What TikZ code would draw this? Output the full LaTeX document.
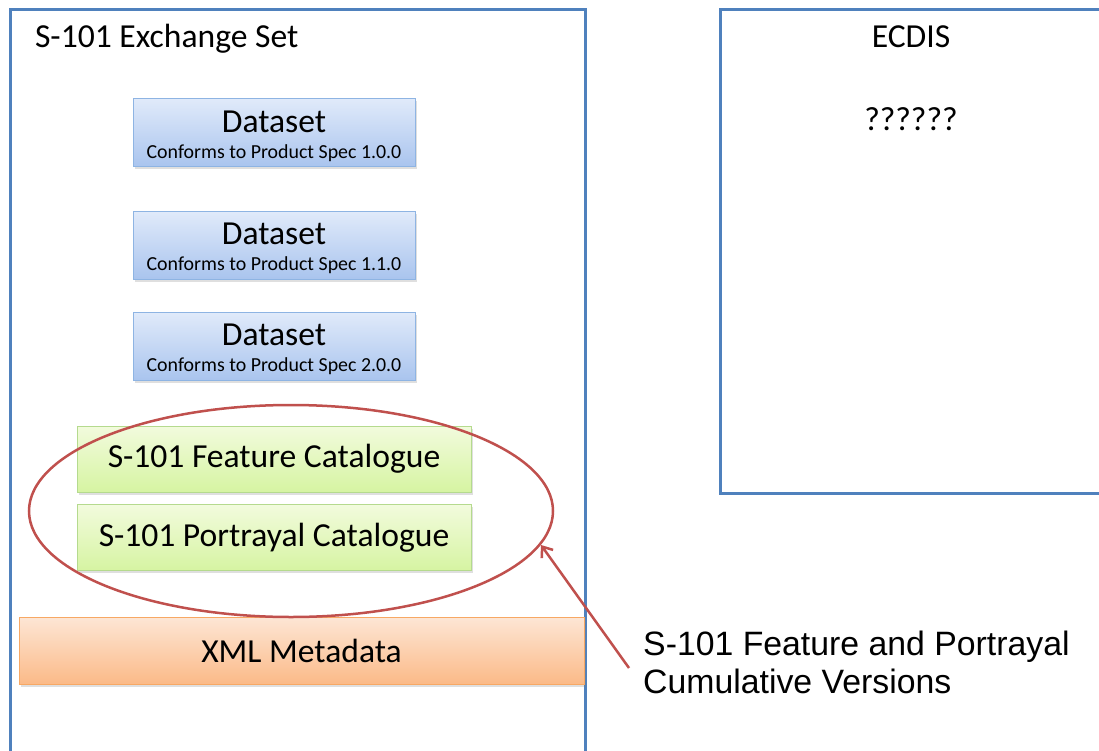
\documentclass[tikz,border=0pt]{standalone}
\usepackage{fontspec}
\setmainfont{Carlito}
\newfontfamily\arialf{Liberation Sans}
\usetikzlibrary{shapes.geometric,shadows,arrows.meta}
\definecolor{offblue}{HTML}{4F81BD}
\definecolor{dsborder}{HTML}{8EB4E3}
\definecolor{dstop}{HTML}{E0EAFA}
\definecolor{dsbot}{HTML}{A9C4EE}
\definecolor{grborder}{HTML}{B5DA8E}
\definecolor{grtop}{HTML}{F2FBDD}
\definecolor{grbot}{HTML}{D6F4A2}
\definecolor{orborder}{HTML}{F7A864}
\definecolor{ortop}{HTML}{FDE6D5}
\definecolor{orbot}{HTML}{FBBA88}
\definecolor{ovalred}{HTML}{C0504D}
\tikzset{
  container/.style={draw=offblue,line width=3pt},
  boxbase/.style={rectangle,line width=1pt,inner sep=0pt,
    drop shadow={shadow xshift=1.5pt,shadow yshift=-2.5pt,opacity=0.25}},
  dsbox/.style={boxbase,draw=dsborder,top color=dstop,bottom color=dsbot,
    minimum width=282pt,minimum height=68pt,align=center,
    font=\fontsize{19.9}{26}\selectfont},
  grbox/.style={boxbase,draw=grborder,top color=grtop,bottom color=grbot,
    minimum width=394pt,minimum height=66pt,font=\fontsize{33.6}{36}\selectfont},
  orbox/.style={boxbase,draw=orborder,top color=ortop,bottom color=orbot,
    minimum width=565pt,minimum height=67pt,font=\fontsize{33.6}{36}\selectfont},
  plaintxt/.style={inner sep=0pt,font=\fontsize{33.6}{36}\selectfont},
  oval/.style={ellipse,draw=ovalred,line width=2.5pt,minimum width=524pt,minimum height=212pt},
  pointer/.style={draw=ovalred,line width=2.5pt,-{Straight Barb[length=9pt,width=14pt]}}
}
\newcommand{\dsbig}[1]{{\fontsize{33.6}{26}\selectfont\rule{0pt}{28pt}#1}}
\begin{document}
\begin{tikzpicture}[x=1pt,y=-1pt]
\clip (0,0) rectangle (1099,751);
\fill[white] (0,0) rectangle (1099,751);
% containers
\draw[container] (10,10) rectangle (585,770);
\draw[container] (720,10) rectangle (1110,493);
\node[plaintxt,anchor=base west] (extitle) at (35,47.5) {S-101 Exchange Set};
\node[plaintxt,anchor=base] (ecdis) at (911,48) {ECDIS};
\node[plaintxt,anchor=base] (qq) at (911,131) {??????};
% datasets
\node[dsbox] (ds1) at (274,133) {\dsbig{Dataset}\\Conforms to Product Spec 1.0.0};
\node[dsbox] (ds2) at (274,245.5) {\dsbig{Dataset}\\Conforms to Product Spec 1.1.0};
\node[dsbox] (ds3) at (274,346.5) {\dsbig{Dataset}\\Conforms to Product Spec 2.0.0};
% catalogues
\node[grbox] (fc) at (274,459) {S-101 Feature Catalogue};
\node[grbox] (pc) at (274,537.5) {S-101 Portrayal Catalogue};
\node[orbox] (xml) at (301.5,650.5) {XML Metadata};
% oval
\node[oval] (ell) at (291,511) {};
% annotation
\node[anchor=base west,align=left,inner sep=0pt,font=\arialf\fontsize{33.8}{37.5}\selectfont] (note) at (643,693) {S-101 Feature and Portrayal\\Cumulative Versions};
\coordinate (tail) at (629,668);
\coordinate (tip) at (541,545);
\draw[pointer] (tail) -- (tip);
\end{tikzpicture}
\end{document}
